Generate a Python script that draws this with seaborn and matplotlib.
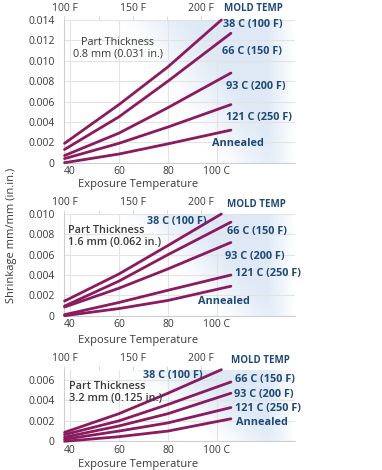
import matplotlib
matplotlib.use("Agg")
import matplotlib.pyplot as plt
import numpy as np
import pandas as pd
import seaborn as sns
from matplotlib.ticker import FixedLocator, FuncFormatter

# exposure temperature (C) where values were read; the 38 C line runs off the top
EXPOSURE_C = [37.8, 60, 80, 105.7]
EXPOSURE_C_TOP = [37.8, 60, 80, 101.8]

MOLD_TEMPS = ["38 C (100 F)", "66 C (150 F)", "93 C (200 F)", "121 C (250 F)", "Annealed"]

# shrinkage, mm/mm, one list per mold temperature (same order as MOLD_TEMPS)
SHRINK_08 = [
    [0.0019, 0.0057, 0.0094, 0.0140],
    [0.0013, 0.0045, 0.0080, 0.0127],
    [0.0007, 0.0029, 0.0054, 0.0088],
    [0.0004, 0.0019, 0.0035, 0.0057],
    [0.0000, 0.00085, 0.00185, 0.0032],
]
SHRINK_16 = [
    [0.00144, 0.0041, 0.0069, 0.0100],
    [0.00095, 0.0034, 0.0060, 0.0092],
    [0.00085, 0.0027, 0.0046, 0.0072],
    [0.0001, 0.0013, 0.0025, 0.0040],
    [0.0000, 0.0007, 0.0015, 0.0029],
]
SHRINK_32 = [
    [0.00087, 0.0027, 0.0047, 0.0070],
    [0.00065, 0.0020, 0.0036, 0.0058],
    [0.0004, 0.0015, 0.0027, 0.0047],
    [0.0002, 0.0010, 0.0018, 0.0033],
    [0.0000, 0.00045, 0.0010, 0.0022],
]

THICKNESS = ["Part Thickness\n0.8 mm (0.031 in.)", "Part Thickness\n1.6 mm (0.062 in.)",
             "Part Thickness\n3.2 mm (0.125 in.)"]
Y_MAX = [0.014, 0.010, 0.007]
Y_TICKS = [np.arange(0, 0.0141, 0.002), np.arange(0, 0.0101, 0.002), np.arange(0, 0.0061, 0.002)]
X_TICKS = [40, 60, 80, 100]
X_TICK_LABELS = ["40", "60", "80", "100 C"]
F_TICKS = [100, 150, 200]
F_TICK_LABELS = ["100 F", "150 F", "200 F"]

LINE = "#8a1b5f"
NAVY = "#1f4a78"
GREY = "#3a3a3a"
FONT = ["Open Sans", "DejaVu Sans"]

W, H = 382, 470


def long_frame(values):
    rows = []
    for name, series in zip(MOLD_TEMPS, values):
        xs = EXPOSURE_C_TOP if name.startswith("38") else EXPOSURE_C
        for x, y in zip(xs, series):
            rows.append({"mold": name, "exposure_c": x, "shrinkage": y})
    return pd.DataFrame(rows)


def gradient(ax):
    u = np.linspace(0, 1, 300)[None, :]
    v = np.linspace(1, 0, 120)[:, None]
    start = 0.62 - 0.42 * v
    a = np.clip((u - start) / 0.38, 0, 1)
    a = a * a * (3 - 2 * a)
    a = a * np.clip((1.0 - u) / 0.12, 0, 1)
    img = np.zeros((120, 300, 4))
    img[..., 0] = 0.82
    img[..., 1] = 0.88
    img[..., 2] = 0.95
    img[..., 3] = 0.7 * a
    ax.imshow(img, extent=(0, 1, 0, 1), transform=ax.transAxes, aspect="auto",
              zorder=0, interpolation="bilinear")


def c_to_f(c):
    return np.asarray(c) * 9 / 5 + 32


def f_to_c(f):
    return (np.asarray(f) - 32) * 5 / 9


sns.set_theme(style="white")
plt.rcParams["font.family"] = FONT

fig = plt.figure(figsize=(W / 100, H / 100), dpi=100)

# axes boxes in pixels: (top, bottom)
boxes = [(20, 162.7), (214, 315.7), (369.7, 441.3)]
left_px, right_px = 64.3, 295

# label anchors in data coords (left edge, centre)
label_pos = [
    [(102.5, 0.01353), (102.0, 0.0109), (103.5, 0.00748), (103.8, 0.00446), (97.8, 0.00192)],
    [(71.4, 0.00928), (104.1, 0.00824), (103.1, 0.00585), (107.2, 0.00416), (92.1, 0.00137)],
    [(70.0, 0.0064), (107.5, 0.00608), (106.8, 0.00461), (107.2, 0.00325), (107.8, 0.00185)],
]
mold_pos = [(102.7, 0.01509), (104.1, 0.01092), (105.7, 0.00786)]
thick_pos = [(59.6, 0.01124, "center"), (39.4, 0.00779, "left"), (39.7, 0.00481, "left")]
xlabel_px = [185, 340.5, 464]

for i, values in enumerate([SHRINK_08, SHRINK_16, SHRINK_32]):
    top, bottom = boxes[i]
    ax = fig.add_axes([left_px / W, 1 - bottom / H, (right_px - left_px) / W, (bottom - top) / H])
    gradient(ax)
    ax.set_axisbelow(True)
    sns.lineplot(data=long_frame(values), x="exposure_c", y="shrinkage", hue="mold",
                 palette=[LINE] * 5, legend=False, linewidth=2.0, estimator=None,
                 ax=ax, clip_on=False, zorder=3)
    ax.set_xlim(37.7, 37.7 + (right_px - left_px) / 2.45)
    ax.set_ylim(0, Y_MAX[i])
    ax.set_yticks(Y_TICKS[i])
    ax.yaxis.set_major_formatter(FuncFormatter(lambda v, _: "0" if abs(v) < 1e-9 else f"{v:.3f}"))
    ax.set_xticks(X_TICKS, labels=X_TICK_LABELS)
    ax.grid(True, color="#e3e3e3", linewidth=0.8)
    for side in ["top", "right"]:
        ax.spines[side].set_visible(False)
    for side in ["left", "bottom"]:
        ax.spines[side].set_color("#cfcfcf")
        ax.spines[side].set_linewidth(0.8)
    ax.tick_params(axis="both", labelsize=7.5, colors="#cfcfcf", labelcolor=GREY,
                   length=3, width=0.6, pad=1)
    ax.tick_params(axis="x", length=2, pad=0.5)
    ax.tick_params(axis="y", pad=4)
    ax.set_ylabel("")
    ax.set_xlabel("")

    sec = ax.secondary_xaxis("top", functions=(c_to_f, f_to_c))
    sec.set_xticks(F_TICKS, labels=F_TICK_LABELS)
    sec.xaxis.set_minor_locator(FixedLocator([125, 175]))
    sec.spines["top"].set_visible(False)
    sec.tick_params(which="both", labelsize=7.5, colors="#cfcfcf", labelcolor=GREY,
                    length=3, width=0.6, pad=1)

    for name, (x, y) in zip(MOLD_TEMPS, label_pos[i]):
        ax.text(x, y, name, color=NAVY, fontsize=7.8, fontweight="bold",
                ha="left", va="center", zorder=4)
    ax.text(*mold_pos[i], "MOLD TEMP", color=NAVY, fontsize=7, fontweight="bold",
            ha="left", va="center", clip_on=False)
    tx, ty, ha = thick_pos[i]
    ax.text(tx, ty, THICKNESS[i], color=GREY, fontsize=7.8, ha=ha, va="center",
            multialignment=ha, linespacing=1.15,
            fontweight="normal" if i == 0 else "semibold", zorder=4)

    fig.text(138 / W, 1 - xlabel_px[i] / H, "Exposure Temperature", color=GREY,
             fontsize=8, ha="center", va="center")

fig.text(12 / W, 1 - 235 / H, "Shrinkage mm/mm (in.in.)", color=GREY, fontsize=8,
         rotation=90, ha="center", va="center")

fig.savefig("out.png", dpi=100)
